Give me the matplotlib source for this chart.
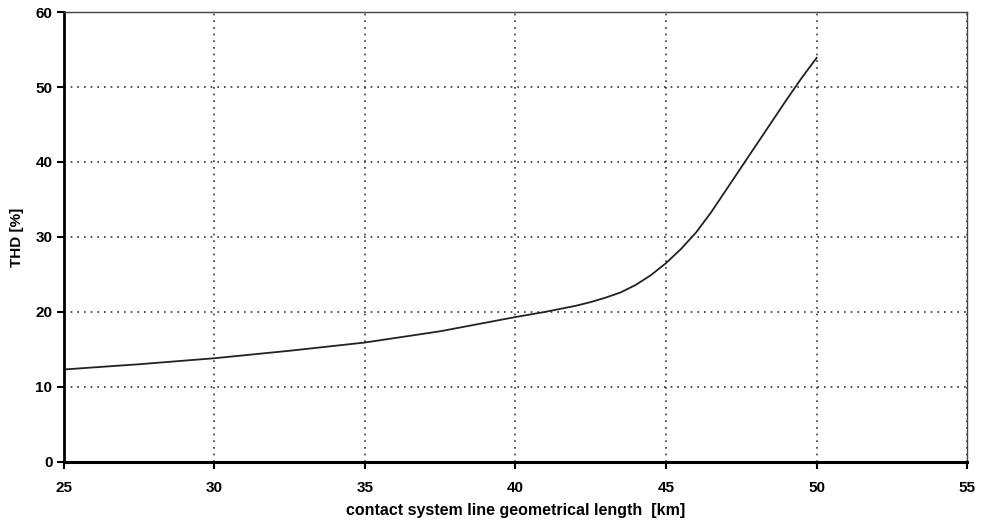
import numpy as np
import matplotlib.pyplot as plt

# THD versus contact system line length
length_km = [25, 27.5, 30, 32.5, 35, 37.5, 40, 41, 41.5, 42, 42.5, 43, 43.5,
             44, 44.5, 45, 45.5, 46, 46.5, 47, 47.5, 48, 48.5, 49, 49.5, 50]
thd_pct = [12.3, 13.0, 13.8, 14.8, 15.9, 17.4, 19.3, 20.0, 20.4, 20.8, 21.3, 21.9, 22.6,
           23.6, 24.9, 26.5, 28.4, 30.6, 33.3, 36.3, 39.3, 42.3, 45.3, 48.3, 51.2, 53.9]

x_ticks = [25, 30, 35, 40, 45, 50, 55]
y_ticks = [0, 10, 20, 30, 40, 50, 60]

plt.rcParams['font.family'] = ['Liberation Sans', 'DejaVu Sans']

fig = plt.figure(figsize=(9.87, 5.27), dpi=100)
ax = fig.add_axes([0.0644, 0.124, 0.9156, 0.853])

ax.plot(length_km, thd_pct, color='#222222', lw=1.3)

ax.set_xlim(25, 55)
ax.set_ylim(0, 60)
ax.set_xticks(x_ticks)
ax.set_yticks(y_ticks)
ax.tick_params(axis='both', direction='out', length=5, width=1.5,
               labelsize=11, colors='black')
for lab in ax.get_xticklabels() + ax.get_yticklabels():
    lab.set_fontweight('bold')
ax.tick_params(axis='x', pad=9)
ax.tick_params(axis='y', pad=3)

ax.grid(True, linestyle=(0, (1, 3)), color='#333333', lw=1.2)

ax.spines['left'].set_linewidth(2)
ax.spines['bottom'].set_linewidth(2.2)
ax.spines['top'].set_linewidth(1)
ax.spines['right'].set_linewidth(1)
ax.spines['top'].set_color('#444444')
ax.spines['right'].set_color('#444444')

ax.set_xlabel('contact system line geometrical length  [km]',
              fontsize=11.5, fontweight='bold', labelpad=6)
ax.set_ylabel('THD [%]', fontsize=11, fontweight='bold', labelpad=8)

fig.savefig('out.png', dpi=100)
